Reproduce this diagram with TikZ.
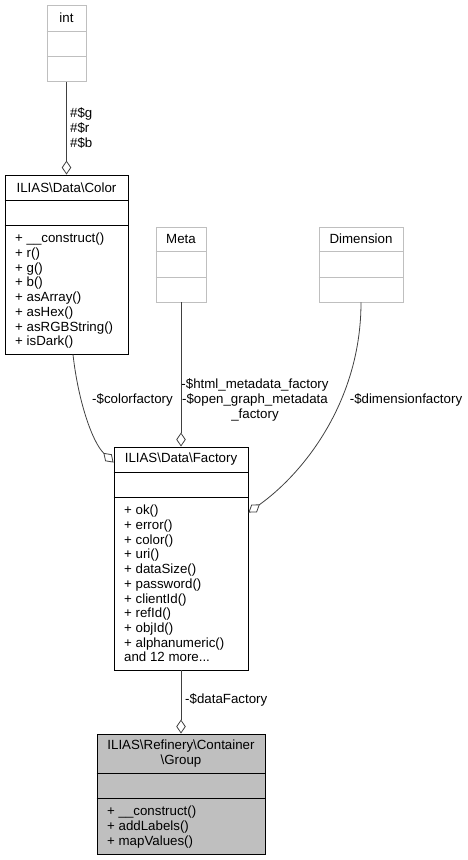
\documentclass[tikz,border=0pt]{standalone}
\usepackage{fontspec}
\setmainfont{Liberation Sans}
\usetikzlibrary{arrows.meta}
\definecolor{edgegray}{HTML}{404040}
\definecolor{boxgray}{HTML}{BFBFBF}

\begin{document}
\begin{tikzpicture}[x=1pt, y=-1pt,
    every node/.style={font=\fontsize{13.3}{14.7}\selectfont},
    classbox/.style={draw=black, line width=0.9pt, inner sep=0pt, fill=white},
    extbox/.style={draw=boxgray, line width=0.9pt, inner sep=0pt, fill=white},
    boxtitle/.style={inner sep=0pt, align=center},
    members/.style={inner sep=0pt, anchor=north west, align=left},
    elabel/.style={inner sep=0pt, align=left},
    aggr/.style={draw=edgegray, line width=0.8pt, -{Diamond[open, length=14pt, width=9.5pt]}}]
        \useasboundingbox (0,0) rectangle (468,860);

        % int
        \node[extbox, minimum width=39, minimum height=76] (int) at (66.5,43.5) {};
        \draw[boxgray, line width=0.9pt] ([yshift=-26pt]int.north west) -- ([yshift=-26pt]int.north east);
        \draw[boxgray, line width=0.9pt] ([yshift=-51pt]int.north west) -- ([yshift=-51pt]int.north east);
        \node[boxtitle] (inttitle) at ([yshift=-13pt]int.north) {int};

        % color
        \node[classbox, minimum width=123, minimum height=179] (color) at (66.5,264.5) {};
        \draw[line width=0.9pt] ([yshift=-26pt]color.north west) -- ([yshift=-26pt]color.north east);
        \draw[line width=0.9pt] ([yshift=-51pt]color.north west) -- ([yshift=-51pt]color.north east);
        \node[boxtitle] (colortitle) at ([yshift=-13pt]color.north) {ILIAS\textbackslash Data\textbackslash Color};
        \node[members] (colorops) at (15,233) {+ \_\_construct()\\+ r()\\+ g()\\+ b()\\+ asArray()\\+ asHex()\\+ asRGBString()\\+ isDark()};

        % meta
        \node[extbox, minimum width=50, minimum height=75] (meta) at (181,264.5) {};
        \draw[boxgray, line width=0.9pt] ([yshift=-25pt]meta.north west) -- ([yshift=-25pt]meta.north east);
        \draw[boxgray, line width=0.9pt] ([yshift=-51pt]meta.north west) -- ([yshift=-51pt]meta.north east);
        \node[boxtitle] (metatitle) at ([yshift=-12.5pt]meta.north) {Meta};

        % dimension
        \node[extbox, minimum width=84, minimum height=75] (dimension) at (361,264.5) {};
        \draw[boxgray, line width=0.9pt] ([yshift=-25pt]dimension.north west) -- ([yshift=-25pt]dimension.north east);
        \draw[boxgray, line width=0.9pt] ([yshift=-51pt]dimension.north west) -- ([yshift=-51pt]dimension.north east);
        \node[boxtitle] (dimensiontitle) at ([yshift=-12.5pt]dimension.north) {Dimension};

        % factory
        \node[classbox, minimum width=134, minimum height=223] (factory) at (181,558.5) {};
        \draw[line width=0.9pt] ([yshift=-26pt]factory.north west) -- ([yshift=-26pt]factory.north east);
        \draw[line width=0.9pt] ([yshift=-51pt]factory.north west) -- ([yshift=-51pt]factory.north east);
        \node[boxtitle] (factorytitle) at ([yshift=-13pt]factory.north) {ILIAS\textbackslash Data\textbackslash Factory};
        \node[members] (factoryops) at (124,505) {+ ok()\\+ error()\\+ color()\\+ uri()\\+ dataSize()\\+ password()\\+ clientId()\\+ refId()\\+ objId()\\+ alphanumeric()\\and 12 more...};

        % group
        \node[classbox, fill=boxgray, minimum width=168, minimum height=120] (group) at (181,794) {};
        \draw[line width=0.9pt] ([yshift=-40pt]group.north west) -- ([yshift=-40pt]group.north east);
        \draw[line width=0.9pt] ([yshift=-65pt]group.north west) -- ([yshift=-65pt]group.north east);
        \node[boxtitle] (grouptitle) at ([yshift=-20pt]group.north) {ILIAS\textbackslash Refinery\textbackslash Container\\\textbackslash Group};
        \node[members] (groupops) at (107,806) {+ \_\_construct()\\+ addLabels()\\+ mapValues()};

        % connectors
        \draw[aggr] (int.south) -- (color.north);
        \draw[aggr] (meta.south) -- (factory.north);
        \draw[aggr] (factory.south) -- (group.north);
        \draw[aggr] ([xshift=6.5pt]color.south) .. controls (78,400) and (92,442) .. ([yshift=-16pt]factory.north west);
        \draw[aggr] (dimension.south) .. controls (361,400) and (305,472) .. ([yshift=-66pt]factory.north east);

        % labels
        \node[elabel, anchor=west] (rgblabel) at (70,128) {\#\$g\\\#\$r\\\#\$b};
        \node[elabel, anchor=east] (colorlabel) at (173,400) {-\$colorfactory};
        \node[inner sep=0pt, align=center] (metalabel) at (255,400) {-\$html\_metadata\_factory\\-\$open\_graph\_metadata\\\_factory};
        \node[elabel] (dimlabel) at (406,400) {-\$dimensionfactory};
        \node[elabel, anchor=west] (datalabel) at (185,700) {-\$dataFactory};
    \end{tikzpicture}
\end{document}
